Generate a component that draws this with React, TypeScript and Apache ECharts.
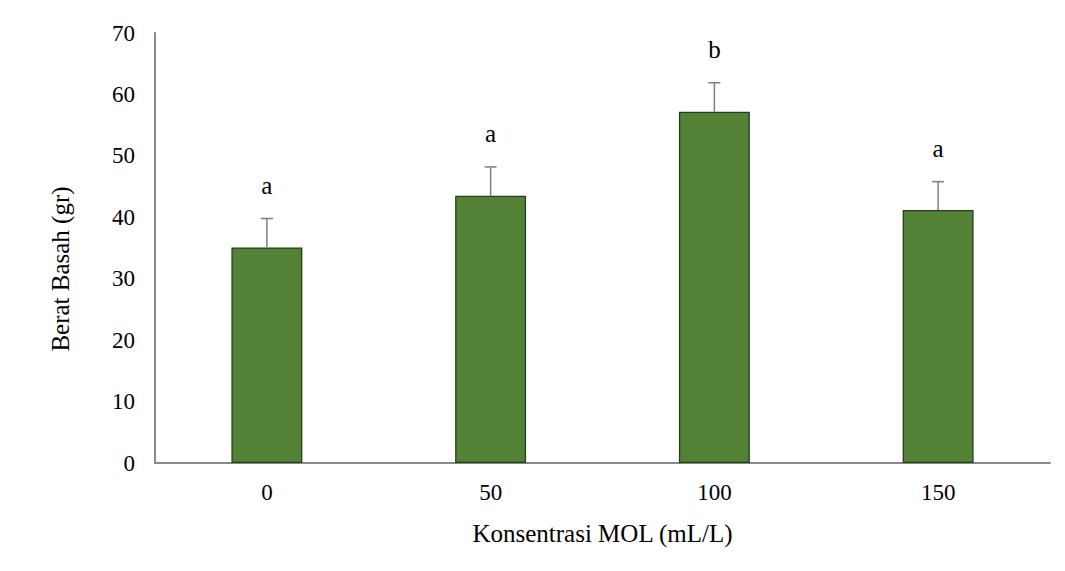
import React, { useEffect, useRef } from "react";
import * as echarts from "echarts";

const categories = ["0", "50", "100", "150"];
const means = [35.1, 43.5, 57.2, 41.2];
const errorTops = [39.8, 48.2, 61.9, 45.8];
const letters = ["a", "a", "b", "a"];

const FONT = "'Liberation Serif', 'Times New Roman', serif";

export default function App() {
  const ref = useRef<HTMLDivElement>(null);
  useEffect(() => {
    if (!ref.current) return;
    const chart = echarts.init(ref.current, undefined, { renderer: "svg" });
    chart.setOption({
      animation: false,
      backgroundColor: "#ffffff",
      grid: { left: 155, right: 15, top: 33, bottom: 108 },
      xAxis: {
        type: "category",
        data: categories,
        axisLine: { lineStyle: { color: "#898989", width: 2 } },
        axisTick: { show: false },
        axisLabel: { color: "#000", fontFamily: FONT, fontSize: 23, margin: 18 },
        name: "Konsentrasi MOL (mL/L)",
        nameLocation: "middle",
        nameGap: 58,
        nameTextStyle: { color: "#000", fontFamily: FONT, fontSize: 25 },
      },
      yAxis: {
        type: "value",
        min: 0,
        max: 70,
        interval: 10,
        axisLine: { show: true, lineStyle: { color: "#898989", width: 2 } },
        axisTick: { show: false },
        splitLine: { show: false },
        axisLabel: { color: "#000", fontFamily: FONT, fontSize: 23, margin: 20 },
      },
      graphic: [
        {
          type: "text",
          x: 60,
          y: 269,
          rotation: Math.PI / 2,
          style: {
            text: "Berat Basah (gr)",
            fill: "#000",
            font: `25px ${FONT}`,
            textAlign: "center",
            textVerticalAlign: "middle",
          },
        },
      ],
      series: [
        {
          type: "bar",
          data: means,
          barWidth: "31.7%",
          itemStyle: { color: "#538135", borderColor: "#263f18", borderWidth: 1.3 },
          z: 2,
        },
        {
          type: "custom",
          z: 3,
          data: categories.map((c, i) => [i, means[i], errorTops[i], letters[i]]),
          renderItem: (params: any, api: any) => {
            const x = api.value(0);
            const base = api.coord([x, api.value(1)]);
            const top = api.coord([x, api.value(2)]);
            const hw = 6;
            return {
              type: "group",
              children: [
                {
                  type: "line",
                  shape: { x1: base[0], y1: base[1], x2: top[0], y2: top[1] },
                  style: { stroke: "#7f7f7f", lineWidth: 1.5 },
                },
                {
                  type: "line",
                  shape: { x1: top[0] - hw, y1: top[1], x2: top[0] + hw, y2: top[1] },
                  style: { stroke: "#7f7f7f", lineWidth: 1.5 },
                },
                {
                  type: "text",
                  x: top[0],
                  y: top[1] - 33,
                  style: {
                    text: letters[params.dataIndex],
                    fill: "#000",
                    font: `25px ${FONT}`,
                    textAlign: "center",
                    textVerticalAlign: "middle",
                  },
                },
              ],
            };
          },
        },
      ],
    });
    return () => chart.dispose();
  }, []);
  return (
    <div
      ref={ref}
      style={{ position: "fixed", left: 0, top: 0, width: 1065, height: 571, background: "#fff" }}
    />
  );
}
